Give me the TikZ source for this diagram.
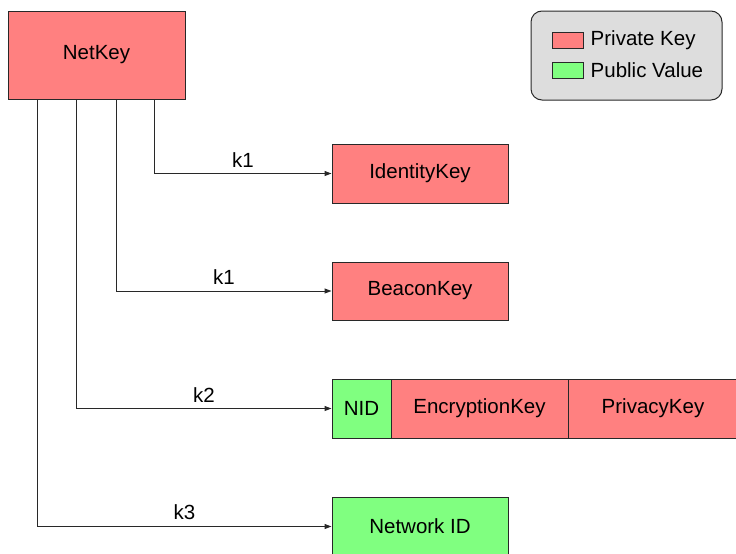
\documentclass[tikz,border=0pt]{standalone}
\usepackage{fontspec}
\setmainfont{Liberation Sans}
\usetikzlibrary{arrows.meta}
\definecolor{privred}{RGB}{255, 128, 128}
\definecolor{pubgreen}{RGB}{128, 255, 128}
\definecolor{legendgray}{RGB}{221, 221, 221}
\definecolor{edgegray}{RGB}{40, 40, 40}
\tikzset{
    keybox/.style={draw=edgegray, line width=1pt, inner sep=0pt, font=\fontsize{20.5}{24}\selectfont},
    privbox/.style={keybox, fill=privred},
    pubbox/.style={keybox, fill=pubgreen},
    derive/.style={draw=edgegray, line width=1pt, -{Triangle[length=7pt, width=5pt]}},
    kdf/.style={font=\fontsize{20.5}{24}\selectfont, anchor=south, inner sep=6pt},
}
\begin{document}
\begin{tikzpicture}[x=1pt, y=-1pt]
            \useasboundingbox (0,0) rectangle (736,554);
            \clip (0,0) rectangle (736,554);
            % Master key
            \node[privbox, minimum width=177pt, minimum height=88pt] (netkey) at ( 96.5, 55.0) {NetKey};
            % Derived keys
            \node[privbox, minimum width=176pt, minimum height=59pt] (identity) at (420.0,173.5) {IdentityKey};
            \node[privbox, minimum width=176pt, minimum height=58pt] (beacon)   at (420.0,291.0) {BeaconKey};
            \node[pubbox,  minimum width=59pt,  minimum height=59pt] (nid)      at (361.5,408.5) {NID};
            \node[privbox, minimum width=177pt, minimum height=59pt] (enc)      at (479.5,408.5) {EncryptionKey};
            \node[privbox, minimum width=170pt, minimum height=59pt] (privacy)  at (653.0,408.5) {PrivacyKey};
            \node[pubbox,  minimum width=176pt, minimum height=59pt] (netid)    at (420.0,526.5) {Network ID};
            % Derivation paths
            \draw[derive] ([xshift=147pt]netkey.south west) |- (identity.west) node[kdf, pos=0.75] (lk1a) {k1};
            \draw[derive] ([xshift=109pt]netkey.south west) |- (beacon.west)   node[kdf, pos=0.75] (lk1b) {k1};
            \draw[derive] ([xshift=69pt]netkey.south west)  |- (nid.west)      node[kdf, pos=0.75] (lk2)  {k2};
            \draw[derive] ([xshift=30pt]netkey.south west)  |- (netid.west)    node[kdf, pos=0.75] (lk3)  {k3};
            % Legend
            \node[draw=edgegray, line width=1pt, fill=legendgray, rounded corners=11pt,
                  minimum width=191pt, minimum height=89pt] (legend) at (626.5, 55.5) {};
            \node[privbox, minimum width=31pt, minimum height=16pt] (swpriv) at (567.5, 40.0) {};
            \node[pubbox,  minimum width=31pt, minimum height=16pt] (swpub)  at (567.5, 70.0) {};
            \node[anchor=west, inner sep=0pt, font=\fontsize{20.5}{24}\selectfont] (txpriv) at ([xshift=7pt]swpriv.east) {Private Key};
            \node[anchor=west, inner sep=0pt, font=\fontsize{20.5}{24}\selectfont] (txpub)  at ([xshift=7pt]swpub.east)  {Public Value};
        \end{tikzpicture}
\end{document}
